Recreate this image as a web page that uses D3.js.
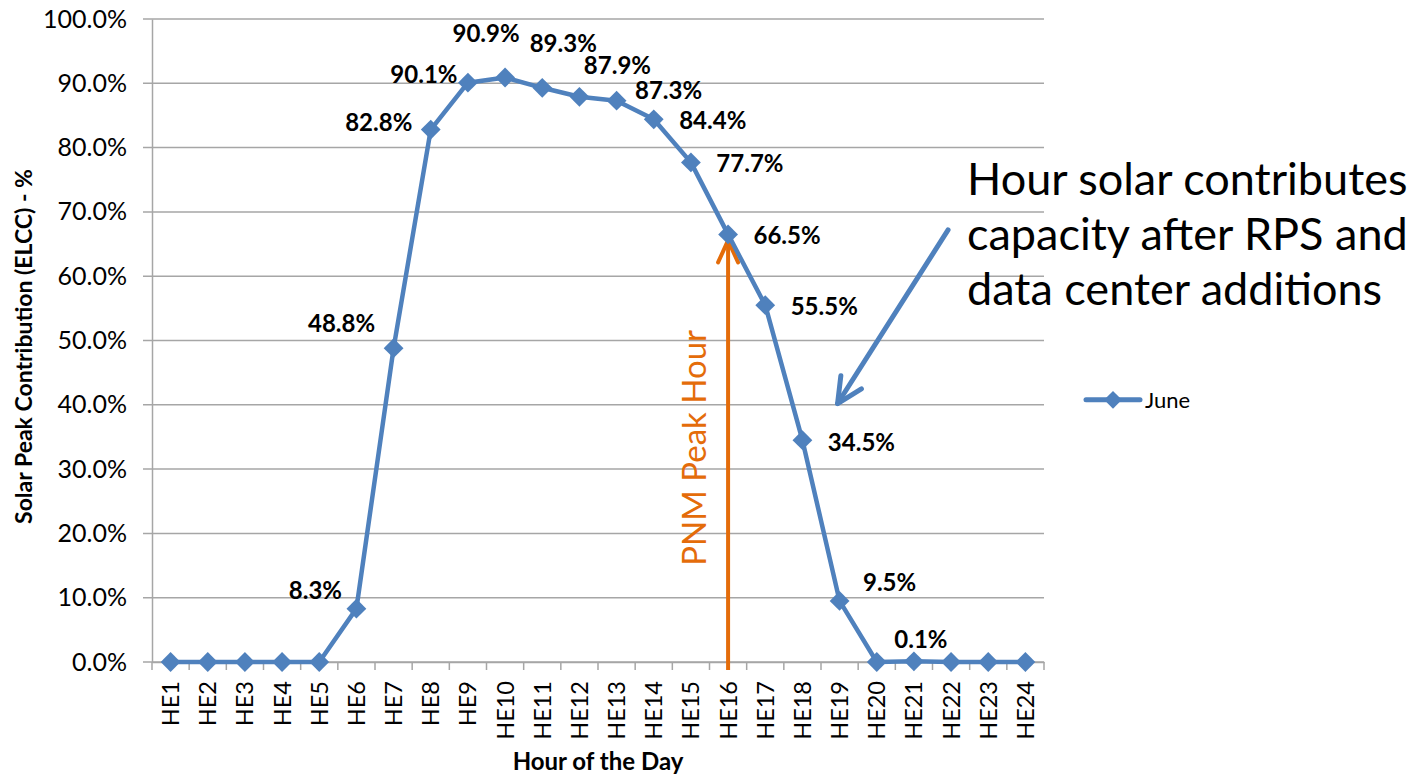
<!DOCTYPE html>
<html>
<head>
<meta charset="utf-8">
<script src="https://cdn.jsdelivr.net/npm/d3@7"></script>
<style>
  body { margin: 0; background: #fff; }
  text { font-family: Lato, "Open Sans", sans-serif; }
</style>
</head>
<body>
<svg id="svg" width="1419" height="776"></svg>
<script>
// chart data
const hours = ["HE1","HE2","HE3","HE4","HE5","HE6","HE7","HE8","HE9","HE10","HE11","HE12",
               "HE13","HE14","HE15","HE16","HE17","HE18","HE19","HE20","HE21","HE22","HE23","HE24"];
const june = [0, 0, 0, 0, 0, 8.3, 48.8, 82.8, 90.1, 90.9, 89.3, 87.9,
              87.3, 84.4, 77.7, 66.5, 55.5, 34.5, 9.5, 0, 0.1, 0, 0, 0];
const yTicks = [0, 10, 20, 30, 40, 50, 60, 70, 80, 90, 100];
const seriesName = "June";
const peakHour = "HE16";
const xTitle = "Hour of the Day";
const yTitle = "Solar Peak Contribution (ELCC) - %";
const peakLabel = "PNM Peak Hour";
const noteLines = ["Hour solar contributes", "capacity after RPS and", "data center additions"];

// where each data label sits relative to its point (dx, dy of text centre)
const labelPos = {
  HE6: [-41, -18], HE7: [-52, -25], HE8: [-52, -7], HE9: [-44, -8], HE10: [-19, -44],
  HE11: [21, -44], HE12: [38, -31], HE13: [52, -10], HE14: [59, 1], HE15: [59, 1],
  HE16: [59, 1], HE17: [59, 1], HE18: [59, 2], HE19: [50, -19], HE21: [7, -22]
};

const blue = "#4F81BD";
const orange = "#E46C0A";
const grid = "#A6A6A6";

const svg = d3.select("#svg");
const margin = {top: 19, right: 375, bottom: 114, left: 152};
const width = +svg.attr("width");
const height = +svg.attr("height");

const x = d3.scaleBand()
  .domain(hours)
  .range([margin.left, width - margin.right]);
const y = d3.scaleLinear()
  .domain([0, 100])
  .range([height - margin.bottom, margin.top]);
const cx = h => x(h) + x.bandwidth() / 2;

const data = hours.map((h, i) => ({hour: h, value: june[i]}));

// gridlines
svg.append("g")
  .selectAll("line")
  .data(yTicks)
  .join("line")
  .attr("x1", margin.left - 9)
  .attr("x2", width - margin.right)
  .attr("y1", d => y(d))
  .attr("y2", d => y(d))
  .attr("stroke", grid)
  .attr("stroke-width", 1.5);

// y axis
const yAxis = g => g
  .attr("transform", `translate(${margin.left},0)`)
  .call(d3.axisLeft(y).tickValues(yTicks).tickSize(0).tickPadding(25)
    .tickFormat(d => d.toFixed(1) + "%"))
  .call(g => g.select(".domain").attr("stroke", grid).attr("stroke-width", 1.5))
  .call(g => g.selectAll("text").attr("font-size", 25).attr("fill", "#000")
    .attr("font-family", "Lato"));
svg.append("g").call(yAxis);

// x axis
const xAxis = g => g
  .attr("transform", `translate(0,${y(0)})`)
  .call(d3.axisBottom(x).tickSize(0).tickSizeOuter(0))
  .call(g => g.select(".domain").attr("stroke", grid).attr("stroke-width", 1.5))
  .call(g => g.selectAll(".tick text")
    .attr("font-size", 23.5)
    .attr("font-family", "Lato")
    .attr("fill", "#000")
    .attr("text-anchor", "end")
    .attr("transform", "rotate(-90)")
    .attr("x", -19)
    .attr("y", 0)
    .attr("dy", "0.36em"));
svg.append("g").call(xAxis);

// x tick marks on band edges
svg.append("g")
  .selectAll("line")
  .data(hours.concat(["end"]))
  .join("line")
  .attr("x1", (d, i) => margin.left + i * x.step())
  .attr("x2", (d, i) => margin.left + i * x.step())
  .attr("y1", y(0))
  .attr("y2", y(0) + 8)
  .attr("stroke", grid)
  .attr("stroke-width", 1.5);

// PNM peak hour arrow
const px = cx(peakHour);
const peakVal = june[hours.indexOf(peakHour)];
const tipY = y(peakVal) + 4;
svg.append("line")
  .attr("x1", px).attr("x2", px)
  .attr("y1", y(0) + 8).attr("y2", tipY)
  .attr("stroke", orange).attr("stroke-width", 4);
svg.append("path")
  .attr("d", `M${px - 10},${tipY + 24}L${px},${tipY + 2}L${px + 10},${tipY + 24}`)
  .attr("fill", "none").attr("stroke", orange).attr("stroke-width", 4)
  .attr("stroke-linecap", "round").attr("stroke-linejoin", "round");
svg.append("text")
  .attr("transform", `translate(${px - 22},${y(33.3)}) rotate(-90)`)
  .attr("text-anchor", "middle")
  .attr("font-size", 33)
  .attr("fill", orange)
  .text(peakLabel);

// series line
const line = d3.line()
  .x(d => cx(d.hour))
  .y(d => y(d.value));

svg.append("path")
  .datum(data)
  .attr("fill", "none")
  .attr("stroke", blue)
  .attr("stroke-width", 4.5)
  .attr("stroke-linejoin", "round")
  .attr("d", line);

svg.append("g")
  .selectAll("path")
  .data(data)
  .join("path")
  .attr("transform", d => `translate(${cx(d.hour)},${y(d.value)})`)
  .attr("d", d3.symbol(d3.symbolDiamond2, 250))
  .attr("fill", blue);

// data labels
svg.append("g")
  .selectAll("text")
  .data(data.filter(d => labelPos[d.hour]))
  .join("text")
  .attr("x", d => cx(d.hour) + labelPos[d.hour][0])
  .attr("y", d => y(d.value) + labelPos[d.hour][1])
  .attr("dy", "0.36em")
  .attr("text-anchor", "middle")
  .attr("font-size", 24)
  .attr("font-weight", "bold")
  .text(d => d.value.toFixed(1) + "%");

// annotation arrow
const ax1 = cx("HE22") - 3, ay1 = y(67.2);
const ax2 = cx("HE19") - 2, ay2 = y(40.2);
const ang = Math.atan2(ay2 - ay1, ax2 - ax1);
const head = 28, spread = 0.45;
svg.append("line")
  .attr("x1", ax1).attr("y1", ay1).attr("x2", ax2).attr("y2", ay2)
  .attr("stroke", blue).attr("stroke-width", 5).attr("stroke-linecap", "round");
svg.append("path")
  .attr("d", `M${ax2 - head * Math.cos(ang - spread)},${ay2 - head * Math.sin(ang - spread)}` +
             `L${ax2},${ay2}` +
             `L${ax2 - head * Math.cos(ang + spread)},${ay2 - head * Math.sin(ang + spread)}`)
  .attr("fill", "none").attr("stroke", blue).attr("stroke-width", 5)
  .attr("stroke-linecap", "round").attr("stroke-linejoin", "round");

svg.append("g")
  .selectAll("text")
  .data(noteLines)
  .join("text")
  .attr("x", 967)
  .attr("y", (d, i) => 195 + i * 55)
  .attr("font-size", 45)
  .attr("fill", "#000")
  .text(d => d);

// legend
const lg = svg.append("g").attr("transform", `translate(1086,${y(40) - 5})`);
lg.append("line").attr("x1", 0).attr("x2", 54)
  .attr("stroke", blue).attr("stroke-width", 5).attr("stroke-linecap", "round");
lg.append("path").attr("transform", "translate(27,0)")
  .attr("d", d3.symbol(d3.symbolDiamond2, 200)).attr("fill", blue);
lg.append("text").attr("x", 59).attr("dy", "0.36em")
  .attr("font-size", 22).text(seriesName);

// axis titles
svg.append("text")
  .attr("x", x.range()[0] + (x.range()[1] - x.range()[0]) / 2)
  .attr("y", 770)
  .attr("text-anchor", "middle")
  .attr("font-size", 24)
  .attr("font-weight", "bold")
  .text(xTitle);

svg.append("text")
  .attr("transform", `translate(32,${y(50) + 6}) rotate(-90)`)
  .attr("text-anchor", "middle")
  .attr("font-size", 23)
  .attr("font-weight", "bold")
  .text(yTitle);
</script>
</body>
</html>
